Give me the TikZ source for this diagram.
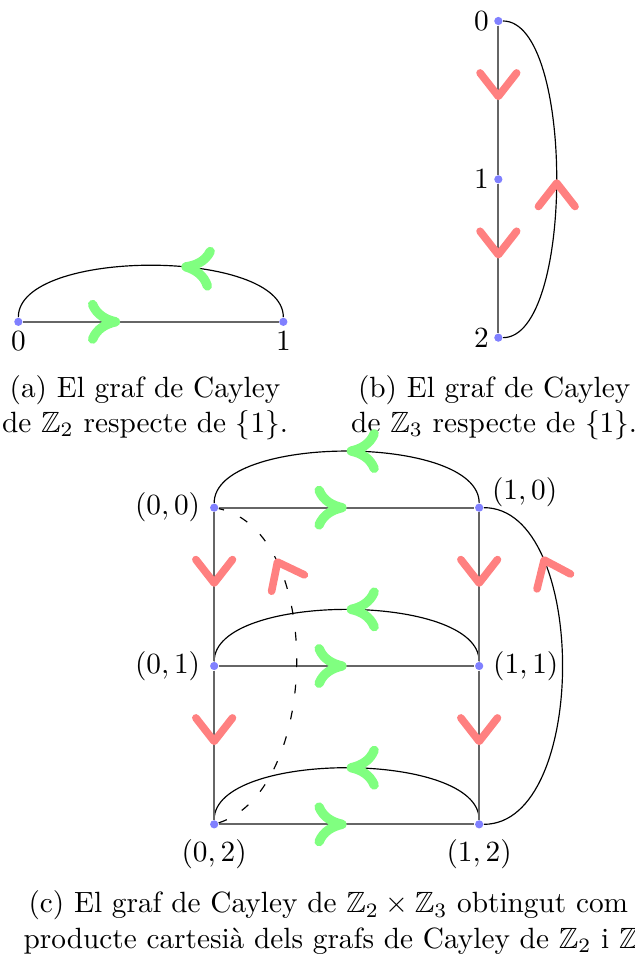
\documentclass[tikz,border=0pt]{standalone}
\usepackage{amssymb}
\usepackage{amsmath}
\usetikzlibrary{positioning, arrows.meta, decorations.markings}

\tikzset{
  vertex/.style={circle, fill=blue!50, inner sep=0pt, minimum size=2.8pt},
  lbl/.style={inner sep=0pt},
  cayedge/.style={draw=black!60, line width=0.6pt},
  cayloop/.style={draw=black, line width=0.4pt},
  greenhead/.tip={Computer Modern Rightarrow[color=green!50, length=11pt, width=15pt, line width=3.2pt]},
  redhead/.tip={Straight Barb[color=red!50, length=8pt, width=12.5pt, line width=2.6pt, round]},
  gen/.style={postaction={decorate, decoration={markings, mark=at position #1 with {\arrow{greenhead}}}}},
  gen/.default=0.5,
  rgen/.style={postaction={decorate, decoration={markings, mark=at position #1 with {\arrow{redhead}}}}},
  rgen/.default=0.5,
}

\begin{document}
\begin{tikzpicture}
\useasboundingbox (0,0) rectangle (7.608,11.472);

% (a) Z_2
\node[vertex] (a0) at (0.22,7.61) {};
\node[vertex] (a1) at (3.40,7.61) {};
\node[lbl, below=1.5pt of a0] (la0) {$0$};
\node[lbl, below=1.5pt of a1] (la1) {$1$};
\draw[cayedge, gen=0.38] (a0) -- (a1);
\draw[cayloop, gen=0.4] (a1) to[out=90, in=90, looseness=0.67] (a0);
\node[align=center] (capa) at (1.74,6.58) {(a) El graf de Cayley\\de $\mathbb{Z}_2$ respecte de $\{1\}$.};

% (b) Z_3
\node[vertex] (b0) at (5.98,11.22) {};
\node[vertex] (b1) at (5.98,9.32) {};
\node[vertex] (b2) at (5.98,7.42) {};
\node[lbl, left=1.5pt of b0] (lb0) {$0$};
\node[lbl, left=1.5pt of b1] (lb1) {$1$};
\node[lbl, left=1.5pt of b2] (lb2) {$2$};
\draw[cayedge, rgen] (b0) -- (b1);
\draw[cayedge, rgen] (b1) -- (b2);
\draw[cayloop, rgen] (b2) to[out=0, in=0, looseness=0.58] (b0);
\node[align=center] (capb) at (5.93,6.58) {(b) El graf de Cayley\\de $\mathbb{Z}_3$ respecte de $\{1\}$.};

% (c) Z_2 x Z_3
\node[vertex] (c00) at (2.57,5.38) {};
\node[vertex] (c10) at (5.75,5.38) {};
\node[vertex] (c01) at (2.57,3.48) {};
\node[vertex] (c11) at (5.75,3.48) {};
\node[vertex] (c02) at (2.57,1.58) {};
\node[vertex] (c12) at (5.75,1.58) {};
\node[lbl, left=3pt of c00] (l00) {$(0,0)$};
\node[lbl, above right=0pt and 2.6pt of c10.east] (l10) {$(1,0)$};
\node[lbl, left=3pt of c01] (l01) {$(0,1)$};
\node[lbl, right=3pt of c11] (l11) {$(1,1)$};
\node[lbl, below=3.3pt of c02] (l02) {$(0,2)$};
\node[lbl, below=3.3pt of c12] (l12) {$(1,2)$};

\draw[cayedge, gen] (c00) -- (c10);
\draw[cayedge, gen] (c01) -- (c11);
\draw[cayedge, gen] (c02) -- (c12);
\draw[cayloop, gen] (c10) to[out=90, in=90, looseness=0.67] (c00);
\draw[cayloop, gen] (c11) to[out=90, in=90, looseness=0.67] (c01);
\draw[cayloop, gen] (c12) to[out=90, in=90, looseness=0.67] (c02);

\draw[cayedge, rgen] (c00) -- (c01);
\draw[cayedge, rgen] (c01) -- (c02);
\draw[cayedge, rgen] (c10) -- (c11);
\draw[cayedge, rgen] (c11) -- (c12);
\draw[cayloop, rgen=0.79] (c12) to[out=0, in=0, looseness=0.85] (c10);
\draw[cayloop, loosely dashed, rgen=0.79] (c02) to[out=18, in=-12, looseness=0.88] (c00);

\node[inner sep=0pt, anchor=base west] (capc1) at (0.336,0.516) {(c) El graf de Cayley de $\mathbb{Z}_2\times\mathbb{Z}_3$ obtingut com};
\node[inner sep=0pt, anchor=base west] (capc2) at (0.276,0.096) {producte cartesià dels grafs de Cayley de $\mathbb{Z}_2$ i $\mathbb{Z}$};
\end{tikzpicture}
\end{document}
